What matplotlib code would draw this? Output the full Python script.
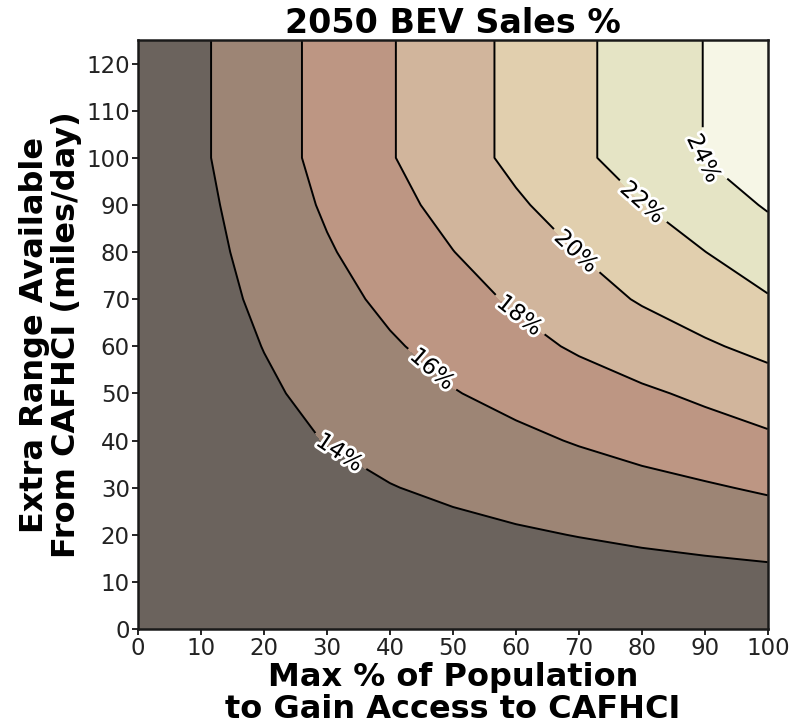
import matplotlib
matplotlib.use("Agg")
import matplotlib.pyplot as plt
import matplotlib.patheffects as pe
import numpy as np

# Grid axes: max % of population with access (x) and extra range in miles/day (y)
population_pct = [0, 10, 20, 30, 40, 50, 60, 70, 80, 90, 100]
extra_range = [0, 10, 20, 30, 40, 50, 60, 70, 80, 90, 100, 125]

# 2050 BEV sales share (%) on the grid, one list per extra-range row
sales_0 = [12.30, 12.30, 12.30, 12.30, 12.30, 12.30, 12.30, 12.30, 12.30, 12.30, 12.30]
sales_10 = [12.30, 12.41, 12.52, 12.63, 12.74, 12.86, 12.97, 13.08, 13.19, 13.30, 13.41]
sales_20 = [12.30, 12.52, 12.77, 13.03, 13.28, 13.54, 13.80, 14.05, 14.31, 14.56, 14.82]
sales_30 = [12.40, 12.82, 13.20, 13.57, 13.94, 14.32, 14.69, 15.07, 15.44, 15.81, 16.23]
sales_40 = [12.40, 13.01, 13.53, 14.05, 14.57, 15.09, 15.61, 16.13, 16.65, 17.17, 17.65]
sales_50 = [12.35, 13.03, 13.75, 14.47, 15.19, 15.91, 16.52, 17.13, 17.73, 18.33, 19.09]
sales_60 = [12.30, 13.17, 14.04, 14.92, 15.80, 16.62, 17.43, 18.23, 19.00, 19.77, 20.50]
sales_70 = [12.30, 13.30, 14.35, 15.39, 16.39, 17.30, 18.24, 19.22, 20.17, 21.00, 21.86]
sales_80 = [12.30, 13.45, 14.64, 15.83, 16.91, 17.97, 19.01, 20.04, 21.01, 21.98, 23.03]
sales_90 = [12.30, 13.60, 14.93, 16.23, 17.43, 18.60, 19.75, 20.85, 21.95, 23.03, 24.17]
sales_100 = [12.38, 13.78, 15.17, 16.55, 17.88, 19.17, 20.43, 21.65, 22.85, 24.04, 25.23]
sales_125 = [12.38, 13.78, 15.17, 16.55, 17.88, 19.17, 20.43, 21.65, 22.85, 24.04, 25.23]

levels = [10, 14, 16, 18, 20, 22, 24, 27]
line_levels = [14, 16, 18, 20, 22, 24]
band_colors = ["#6b635d", "#9d8575", "#bd9683", "#d1b59c", "#e1cfae",
               "#e5e4c5", "#f6f6e6"]

# Label anchor points along each contour (x, y)
label_points = [(32, 37.5), (46.3, 54.5), (60.2, 65.9), (68.9, 79.3),
                (79.7, 90.0), (89.5, 99.5)]

Z = np.array([sales_0, sales_10, sales_20, sales_30, sales_40, sales_50,
              sales_60, sales_70, sales_80, sales_90, sales_100, sales_125])
X, Y = np.meshgrid(population_pct, extra_range)

fig = plt.figure(figsize=(7.94, 7.28), dpi=100)
ax = fig.add_axes([0.174, 0.136, 0.793, 0.809])

ax.contourf(X, Y, Z, levels=levels, colors=band_colors)
cs = ax.contour(X, Y, Z, levels=line_levels, colors="black", linewidths=1.4)
labels = ax.clabel(cs, inline=True, fontsize=16.5, fmt=lambda v: f"{v:.0f}%",
                   manual=label_points, inline_spacing=6)
for t in labels:
    t.set_path_effects([pe.withStroke(linewidth=4, foreground="white")])

ax.set_xlim(0, 100)
ax.set_ylim(0, 125)
ax.set_xticks(np.arange(0, 101, 10))
ax.set_yticks(np.arange(0, 121, 10))
ax.tick_params(axis="both", labelsize=16.5, length=4, width=1.2, pad=2,
               colors="black", labelcolor="#222222")
for s in ax.spines.values():
    s.set_linewidth(1.8)
    s.set_color("#1a1a1a")

ax.set_title("2050 BEV Sales %", fontsize=24, fontweight="bold", pad=4)
ax.set_xlabel("Max % of Population\nto Gain Access to CAFHCI", fontsize=23,
              fontweight="bold", labelpad=1, linespacing=1.05)
ax.set_ylabel("Extra Range Available\nFrom CAFHCI (miles/day)", fontsize=23,
              fontweight="bold", labelpad=3, linespacing=1.05)

fig.savefig("out.png", dpi=100)
